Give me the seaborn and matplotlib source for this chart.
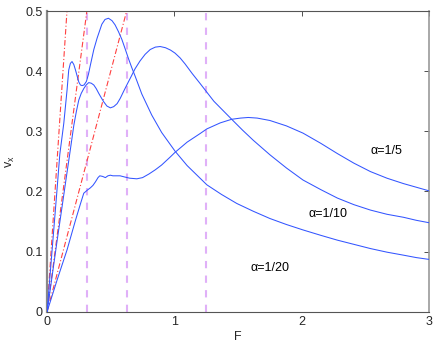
import numpy as np
import pandas as pd
import matplotlib
matplotlib.use("Agg")
import matplotlib.pyplot as plt
import seaborn as sns

# ---- data ----
F_a20 = [0.0, 0.025, 0.05, 0.075, 0.1, 0.131, 0.157, 0.17, 0.183, 0.196, 0.21, 0.223, 0.249, 0.262,
         0.275, 0.29, 0.309, 0.325, 0.34, 0.367, 0.393, 0.43, 0.455, 0.482, 0.51, 0.534, 0.56, 0.587,
         0.615, 0.639, 0.665, 0.691, 0.744, 0.822, 0.9, 1.005, 1.1, 1.255, 1.37, 1.49, 1.62, 1.75,
         1.88, 2.01, 2.15, 2.28, 2.41, 2.54, 2.67, 2.8, 2.9, 3.0]
v_a20 = [0.0, 0.065, 0.13, 0.195, 0.262, 0.313, 0.369, 0.402, 0.413, 0.416, 0.411, 0.402, 0.382, 0.377,
         0.376, 0.377, 0.383, 0.395, 0.41, 0.436, 0.455, 0.478, 0.486, 0.488, 0.484, 0.477, 0.466, 0.453,
         0.436, 0.421, 0.406, 0.392, 0.362, 0.327, 0.298, 0.267, 0.243, 0.211, 0.195, 0.18, 0.167, 0.155,
         0.145, 0.136, 0.127, 0.119, 0.112, 0.105, 0.099, 0.094, 0.09, 0.087]

F_a10 = [0.0, 0.04, 0.08, 0.12, 0.15, 0.183, 0.21, 0.23, 0.249, 0.268, 0.288, 0.307, 0.327, 0.347,
         0.367, 0.386, 0.406, 0.425, 0.445, 0.47, 0.497, 0.523, 0.55, 0.575, 0.6, 0.626, 0.66, 0.691,
         0.73, 0.77, 0.81, 0.85, 0.888, 0.93, 0.97, 1.005, 1.045, 1.084, 1.14, 1.2, 1.255, 1.31, 1.38,
         1.45, 1.535, 1.62, 1.75, 1.88, 2.01, 2.15, 2.28, 2.41, 2.54, 2.67, 2.8, 2.9, 3.0]
v_a10 = [0.0, 0.06, 0.12, 0.178, 0.222, 0.27, 0.31, 0.333, 0.352, 0.363, 0.371, 0.377, 0.381, 0.38,
         0.377, 0.371, 0.363, 0.356, 0.349, 0.342, 0.339, 0.341, 0.346, 0.355, 0.366, 0.377, 0.391, 0.404,
         0.417, 0.428, 0.436, 0.44, 0.441, 0.439, 0.435, 0.43, 0.422, 0.412, 0.396, 0.38, 0.365, 0.35, 0.335,
         0.32, 0.302, 0.285, 0.261, 0.239, 0.219, 0.203, 0.189, 0.178, 0.169, 0.162, 0.157, 0.152, 0.148]

F_a5 = [0.0, 0.079, 0.157, 0.223, 0.26, 0.288, 0.315, 0.34, 0.36, 0.38, 0.4, 0.414, 0.436, 0.458,
        0.478, 0.497, 0.517, 0.537, 0.573, 0.61, 0.65, 0.705, 0.75, 0.8, 0.85, 0.9, 0.966, 1.005, 1.1,
        1.2, 1.255, 1.36, 1.45, 1.52, 1.58, 1.65, 1.75, 1.88, 2.01, 2.15, 2.28, 2.41, 2.54, 2.67, 2.8,
        2.9, 3.0]
v_a5 = [0.0, 0.053, 0.103, 0.152, 0.178, 0.197, 0.202, 0.206, 0.21, 0.216, 0.223, 0.226, 0.225, 0.223,
        0.226, 0.227, 0.226, 0.226, 0.226, 0.224, 0.222, 0.221, 0.223, 0.229, 0.236, 0.244, 0.257, 0.265, 0.282,
        0.296, 0.304, 0.314, 0.32, 0.322, 0.323, 0.322, 0.318, 0.309, 0.297, 0.28, 0.263, 0.247, 0.233, 0.222, 0.213,
        0.207, 0.201]

ref_slopes = [3.2, 1.6, 0.8]          # red dash-dot lines through the origin
F_marks = [0.3125, 0.625, 1.25]        # magenta dashed verticals

labels = ["\u03b1=1/5", "\u03b1=1/10", "\u03b1=1/20"]
label_F = [2.54, 2.05, 1.60]
label_v = [0.268, 0.163, 0.072]

# ---- figure ----
sns.set_style("white")
plt.rcParams['font.family'] = ['Liberation Sans', 'DejaVu Sans']

fig = plt.figure(figsize=(4.36, 3.45), dpi=100)
ax = fig.add_axes([0.108, 0.0965, 0.876, 0.8715])

for Fv in F_marks:
    ax.axvline(Fv, color='#e0b0f8', lw=1.5, ls=(0, (3.5, 3.5)), zorder=1)

for s in ref_slopes:
    xs = np.array([0.0, 0.5 / s])
    ax.plot(xs, s * xs, color='#ff4040', lw=0.8, ls=(0, (5, 2, 1, 2)), zorder=2)

for Fs, vs in [(F_a20, v_a20), (F_a10, v_a10), (F_a5, v_a5)]:
    df = pd.DataFrame({"F": Fs, "v": vs})
    sns.lineplot(data=df, x="F", y="v", ax=ax, color='#3355ff', lw=0.75,
                 sort=False, estimator=None, zorder=3)

for t, x, y in zip(labels, label_F, label_v):
    ax.text(x, y, t, fontsize=9, ha='left', va='center', color='black')

ax.set_xlim(0, 3)
ax.set_ylim(0, 0.5)
ax.set_xticks([0, 1, 2, 3])
ax.set_xticklabels(['0', '1', '2', '3'])
ax.set_yticks([0, 0.1, 0.2, 0.3, 0.4, 0.5])
ax.set_yticklabels(['0', '0.1', '0.2', '0.3', '0.4', '0.5'])
ax.tick_params(direction='in', length=3.5, width=0.6, top=True, right=True,
               labelsize=9, pad=3, color='#333333')
ax.set_xlabel('F', fontsize=9, labelpad=2)
ax.set_ylabel('v$_\\mathregular{x}$', fontsize=9, labelpad=6)
for sp in ax.spines.values():
    sp.set_color('#555555')
    sp.set_linewidth(0.8)
ax.spines['left'].set_linewidth(1.6)
ax.spines['left'].set_color('#888888')
ax.spines['right'].set_linewidth(1.2)
ax.spines['right'].set_color('#999999')

fig.savefig('out.png', dpi=100)
